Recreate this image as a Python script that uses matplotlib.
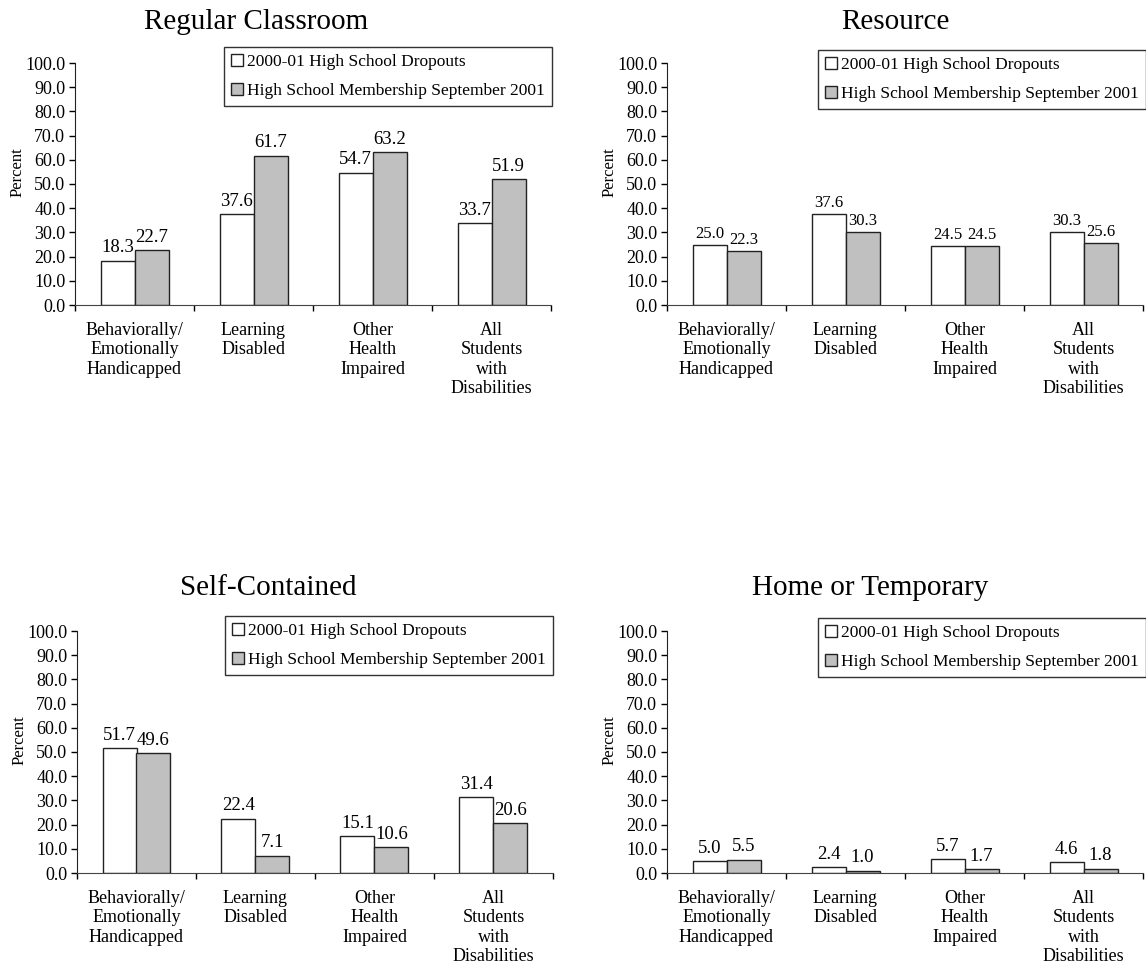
import matplotlib.pyplot as plt
import numpy as np

plt.rcParams['font.family'] = ['Liberation Serif', 'DejaVu Serif']

categories = ["Behaviorally/\nEmotionally\nHandicapped", "Learning\nDisabled",
              "Other\nHealth\nImpaired", "All\nStudents\nwith\nDisabilities"]
series_names = ["2000-01 High School Dropouts", "High School Membership September 2001"]

titles = ["Regular Classroom", "Resource", "Self-Contained", "Home or Temporary"]

regular_dropouts = [18.3, 37.6, 54.7, 33.7]
regular_members = [22.7, 61.7, 63.2, 51.9]
resource_dropouts = [25.0, 37.6, 24.5, 30.3]
resource_members = [22.3, 30.3, 24.5, 25.6]
selfcont_dropouts = [51.7, 22.4, 15.1, 31.4]
selfcont_members = [49.6, 7.1, 10.6, 20.6]
home_dropouts = [5.0, 2.4, 5.7, 4.6]
home_members = [5.5, 1.0, 1.7, 1.8]

panels = [
    (regular_dropouts, regular_members),
    (resource_dropouts, resource_members),
    (selfcont_dropouts, selfcont_members),
    (home_dropouts, home_members),
]

W, H = 1146, 973
fig = plt.figure(figsize=(W / 100, H / 100), dpi=100)

# pixel layout: (axis left x, top y of 100 tick, zero line y)
boxes = [(75, 63, 305), (667, 63, 305), (77, 631, 873), (667, 631, 873)]
title_pos = [(256, 22), (895, 22), (268, 588), (870, 588)]
legend_anchor = [(552, 47), (1146, 50), (553, 616), (1146, 618)]
label_size = [13.5, 12, 13.5, 13.5]
label_off = [6, 5, 6, 6]
cat_w = 119
bar_w = 34 / cat_w

for i, (drop, memb) in enumerate(panels):
    left, top, bottom = boxes[i]
    ax = fig.add_axes([left / W, 1 - bottom / H, 4 * cat_w / W, (bottom - top) / H])
    x = np.arange(len(categories)) + 0.5
    b1 = ax.bar(x - bar_w / 2, drop, width=bar_w, color='white', edgecolor='#222222',
                linewidth=1.0, label=series_names[0])
    b2 = ax.bar(x + bar_w / 2, memb, width=bar_w, color='#c0c0c0', edgecolor='#222222',
                linewidth=1.0, label=series_names[1])
    for bars, vals in [(b1, drop), (b2, memb)]:
        for rect, v in zip(bars, vals):
            ax.annotate(f"{v:.1f}", (rect.get_x() + rect.get_width() / 2, v),
                        xytext=(0, label_off[i]), textcoords='offset points',
                        ha='center', va='baseline', fontsize=label_size[i])

    ax.set_xlim(0, 4)
    ax.set_ylim(0, 100)
    ax.set_yticks(np.arange(0, 101, 10))
    ax.set_yticklabels([f"{t:.1f}" for t in np.arange(0, 101, 10)], fontsize=13)
    ax.set_xticks([0, 1, 2, 3, 4])
    ax.set_xticklabels([])
    ax.set_xticks(x, minor=True)
    ax.set_xticklabels(categories, minor=True, fontsize=13, linespacing=1.2)
    ax.tick_params(axis='x', which='minor', length=0, pad=12)
    ax.tick_params(axis='x', which='major', length=4, width=1, direction='out')
    ax.tick_params(axis='y', length=4, width=1, direction='out', pad=3)
    for side in ['top', 'right']:
        ax.spines[side].set_visible(False)
    ax.spines['left'].set_color('#222222')
    ax.spines['bottom'].set_color('#444444')
    ax.set_ylabel("Percent", fontsize=12)
    ax.yaxis.set_label_coords(-0.105, 0.55)

    lx, ly = legend_anchor[i]
    leg = ax.legend(loc='upper right', bbox_to_anchor=(lx / W, 1 - ly / H),
                    bbox_transform=fig.transFigure, fontsize=12.5, frameon=True,
                    fancybox=False, handlelength=0.7, handleheight=0.7,
                    handletextpad=0.25, labelspacing=0.72, borderpad=0.4,
                    borderaxespad=0)
    leg.get_frame().set_edgecolor('black')
    leg.get_frame().set_linewidth(1.0)

    tx, ty = title_pos[i]
    fig.text(tx / W, 1 - ty / H, titles[i], fontsize=21, ha='center', va='center')

fig.savefig("out.png", dpi=100)
